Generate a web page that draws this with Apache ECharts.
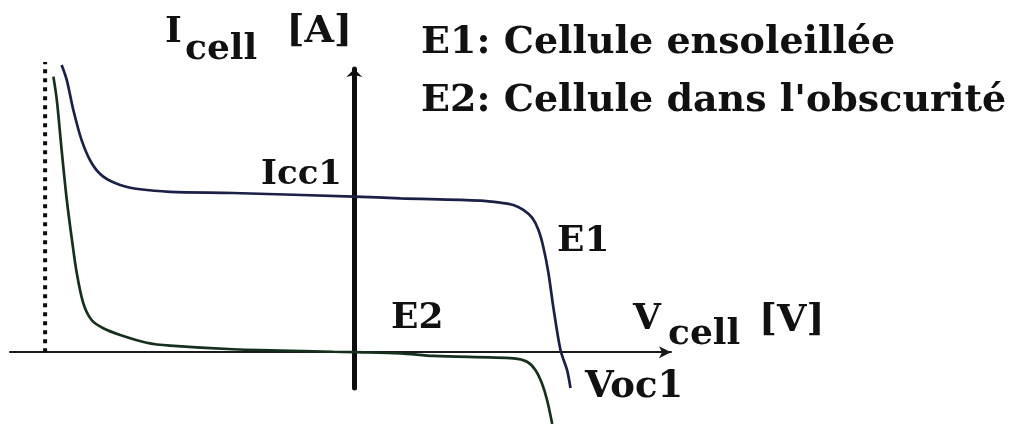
<!DOCTYPE html>
<html>
<head>
<meta charset="utf-8">
<title>Caractéristique I-V d'une cellule photovoltaïque</title>
<script src="https://cdn.jsdelivr.net/npm/echarts@6/dist/echarts.min.js"></script>
<style>
  html, body { margin: 0; padding: 0; background: #ffffff; }
  #chart { width: 1016px; height: 424px; }
</style>
</head>
<body>
<div id="chart"></div>
<script>
// E1 : cellule ensoleillée (tension en V, courant en A, Icc1 = 1)
const e1Voltage = [-0.850, -0.835, -0.816, -0.792, -0.763, -0.729, -0.680, -0.622, -0.535, -0.352,
  0.000, 0.134, 0.366, 0.424, 0.462, 0.491, 0.517, 0.535, 0.549, 0.564, 0.578, 0.599, 0.618, 0.628];
const e1Current = [1.846, 1.749, 1.556, 1.363, 1.216, 1.128, 1.075, 1.047, 1.031, 1.023,
  1.000, 0.989, 0.974, 0.961, 0.946, 0.914, 0.863, 0.786, 0.678, 0.509, 0.292, 0.014, -0.114, -0.230];

// E2 : cellule dans l'obscurité
const e2Voltage = [-0.874, -0.864, -0.850, -0.835, -0.820, -0.806, -0.787, -0.763, -0.729, -0.680,
  -0.603, -0.535, -0.352, -0.061, 0.000, 0.134, 0.231, 0.463, 0.502, 0.526, 0.545, 0.560, 0.575];
const e2Current = [1.771, 1.621, 1.299, 0.978, 0.721, 0.507, 0.314, 0.207, 0.154, 0.111,
  0.061, 0.042, 0.019, 0.003, 0.000, -0.007, -0.024, -0.039, -0.061, -0.114, -0.200, -0.307, -0.461];

// Tension de claquage inverse (trait pointillé vertical)
const breakdownVoltage = -0.898;
const breakdownCurrent = [0, 1.865];

// Étendue des axes
const vMin = -1.0, vMax = 0.92;
const iMin = -0.23, iMax = 1.82;

// Textes
const legendE1 = 'E1: Cellule ensoleillée';
const legendE2 = "E2: Cellule dans l'obscurité";
const labelIcc = 'Icc1';
const labelVoc = 'Voc1';
const labelE1 = 'E1';
const labelE2 = 'E2';

const zip = (xs, ys) => xs.map((x, k) => [x, ys[k]]);

const FONT = '"DejaVu Serif", "Liberation Serif", serif';
const font = (size) => 'bold ' + size + 'px ' + FONT;
const ink = '#111111';

function txt(text, x, y, size, align) {
  return {
    type: 'text', x: x, y: y, silent: true,
    style: { text: text, font: font(size), fill: ink, align: align || 'left', verticalAlign: 'middle' }
  };
}

const chart = echarts.init(document.getElementById('chart'));

chart.setOption({
  animation: false,
  backgroundColor: '#ffffff',
  grid: { left: 10, right: 345, top: 69, bottom: 36 },
  xAxis: {
    type: 'value', min: vMin, max: vMax,
    axisLine: {
      show: true, onZero: true,
      lineStyle: { color: '#1a1a1a', width: 2 },
      symbol: ['none', 'arrow'], symbolSize: [9, 12]
    },
    axisTick: { show: false }, axisLabel: { show: false }, splitLine: { show: false }
  },
  yAxis: {
    type: 'value', min: iMin, max: iMax,
    axisLine: {
      show: true, onZero: true,
      lineStyle: { color: '#0d0d0d', width: 5 },
      symbol: ['none', 'arrow'], symbolSize: [12, 8]
    },
    axisTick: { show: false }, axisLabel: { show: false }, splitLine: { show: false }
  },
  series: [
    {
      name: 'E1', type: 'line', data: zip(e1Voltage, e1Current),
      smooth: 0.3, showSymbol: false, clip: false, z: 3,
      lineStyle: { color: '#1b2046', width: 2.7 }
    },
    {
      name: 'E2', type: 'line', data: zip(e2Voltage, e2Current),
      smooth: 0.3, showSymbol: false, clip: false, z: 3,
      lineStyle: { color: '#15301d', width: 2.7 }
    },
    {
      name: 'Vbr', type: 'line',
      data: breakdownCurrent.map((i) => [breakdownVoltage, i]),
      showSymbol: false, clip: false, z: 2,
      lineStyle: { color: '#0a0a0a', width: 4, type: [4, 5], cap: 'butt' }
    }
  ],
  graphic: [
    // nom de l'axe des courants
    txt('I', 165, 33, 36),
    txt('cell', 185, 50, 36),
    txt('[A]', 352, 32.5, 38, 'right'),
    // nom de l'axe des tensions
    txt('V', 633, 320, 36),
    txt('cell', 668, 335, 36),
    txt('[V]', 759, 321.5, 38),
    // légende
    txt(legendE1, 421, 43.5, 38),
    txt(legendE2, 421, 101.5, 38),
    // repères sur les courbes
    txt(labelIcc, 342, 175, 34, 'right'),
    txt(labelE1, 557, 242, 36),
    txt(labelE2, 391, 319, 36),
    txt(labelVoc, 585, 387, 37)
  ]
});
</script>
</body>
</html>
